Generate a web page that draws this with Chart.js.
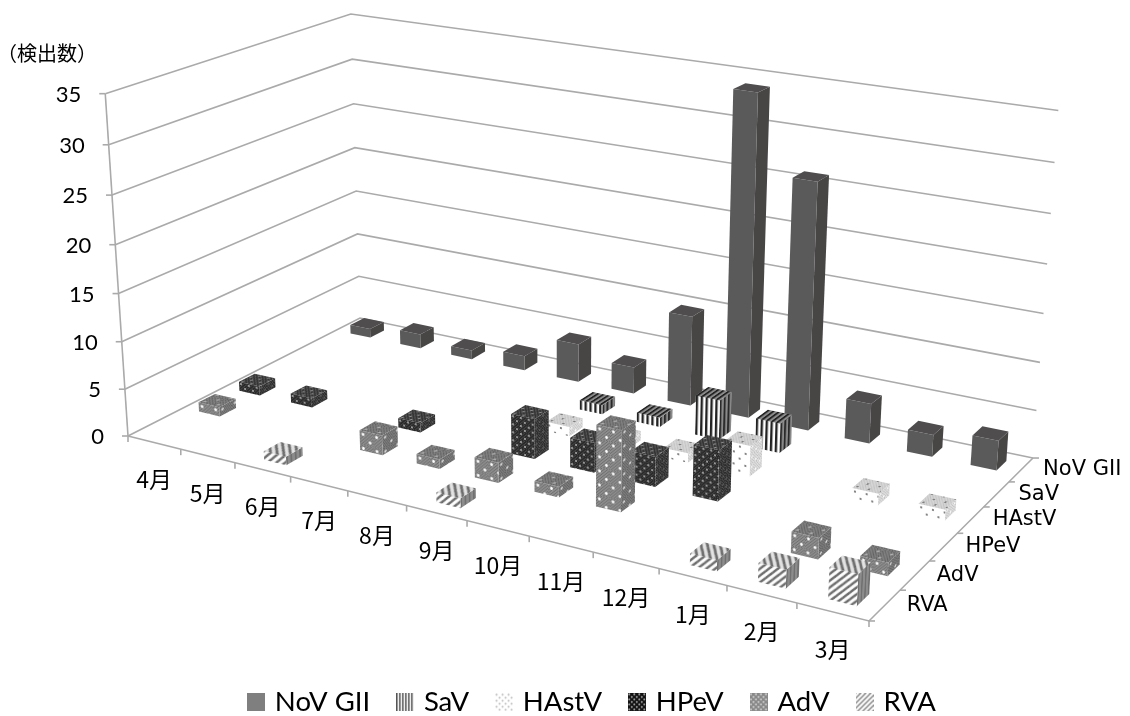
<!DOCTYPE html>
<html>
<head>
<meta charset="utf-8">
<style>
  html, body { margin: 0; padding: 0; background: #fff; }
  #wrap { width: 1130px; height: 716px; }
</style>
<script src="https://cdn.jsdelivr.net/npm/chart.js@4/dist/chart.umd.min.js"></script>
</head>
<body>
<div id="wrap"><canvas id="chart" width="1130" height="716"></canvas></div>
<script>
const months = ['4月', '5月', '6月', '7月', '8月', '9月', '10月', '11月', '12月', '1月', '2月', '3月'];
const seriesNames = ['NoV GII', 'SaV', 'HAstV', 'HPeV', 'AdV', 'RVA'];

const novGII = [1, 1.6, 1, 1.6, 4.2, 2.9, 9.7, 34, 26, 4.2, 2.3, 3.1];
const saV    = [null, null, null, null, null, 1, 1, 4.2, 3.1, null, null, null];
const hAstV  = [null, null, null, null, null, 1, 1, 1, 3.2, null, 1.2, 1.1];
const hPeV   = [1, 1, null, 1, null, 4.2, 3.1, 3.1, 5.2, null, null, null];
const adV    = [1, null, null, 2.1, 1, 2.1, 1.1, 8.2, null, null, 2.1, 1.3];
const rva    = [null, null, 0.9, null, null, 1, null, null, null, 1.1, 1.8, 3];
const allValues = [novGII, saV, hAstV, hPeV, adV, rva];

const MAX_Y = 35;
const DEPTH_BAR = 0.4;

// camera fitted to the corners of the box in the picture: (month, depth, height) -> screen
const CAM = [
  [605, 282.1, -28, 128],
  [87.8, -73.7, -347, 436],
  [-0.1565, 0.1392, -0.05, 1]
];
function project(u, v, t) {
  const w = CAM[2][0] * u + CAM[2][1] * v + CAM[2][2] * t + CAM[2][3];
  return {
    x: (CAM[0][0] * u + CAM[0][1] * v + CAM[0][2] * t + CAM[0][3]) / w,
    y: (CAM[1][0] * u + CAM[1][1] * v + CAM[1][2] * t + CAM[1][3]) / w
  };
}

// fill patterns
const probe = document.createElement('canvas').getContext('2d');
function tile(w, h, bg, draw) {
  const c = document.createElement('canvas');
  c.width = w; c.height = h;
  const g = c.getContext('2d');
  g.fillStyle = bg;
  g.fillRect(0, 0, w, h);
  draw(g);
  return probe.createPattern(c, 'repeat');
}
function stripes(bg, ink, size, bar) {
  return tile(size, size, bg, g => { g.fillStyle = ink; g.fillRect(0, 0, bar, size); });
}
function diagonal(bg, ink, size, lw) {
  return tile(size, size, bg, g => {
    g.strokeStyle = ink; g.lineWidth = lw;
    for (let k = -1; k <= 1; k++) {
      g.beginPath(); g.moveTo(k * size - 1, size + 1); g.lineTo(k * size + size + 1, -1); g.stroke();
    }
  });
}
function dots(bg, ink, size, r, hatch) {
  return tile(size, size, bg, g => {
    if (hatch) {
      g.strokeStyle = hatch; g.lineWidth = 1;
      for (let k = -size; k <= size; k += 3) {
        g.beginPath(); g.moveTo(k, size); g.lineTo(k + size, 0); g.stroke();
      }
    }
    g.fillStyle = ink;
    [[size / 4, size / 4], [size * 3 / 4, size * 3 / 4]].forEach(p => {
      g.beginPath(); g.arc(p[0], p[1], r, 0, Math.PI * 2); g.fill();
    });
  });
}

const faces = [
  { front: '#5a5a5a', side: '#484545', top: '#4f4d4d' },
  { front: stripes('#ffffff', '#222222', 5, 2.4), side: stripes('#8a8a8a', '#2a2a2a', 5, 2.4), top: stripes('#8c8c8c', '#222222', 5, 2.4) },
  { front: dots('#ffffff', '#666666', 12, 1.1), side: dots('#dedede', '#ffffff', 10, 1, '#c0c0c0'), top: dots('#d6d6d6', '#6e6e6e', 12, 1.1, '#c0c0c0') },
  { front: dots('#282828', '#b8b8b8', 8, 1, '#4a4a4a'), side: dots('#2c2c2c', '#666666', 8, 0.9, '#555555'), top: dots('#333333', '#999999', 9, 1.1, '#5c5c5c') },
  { front: dots('#8e8e8e', '#ffffff', 14, 1.4, '#6c6c6c'), side: dots('#7c7c7c', '#dddddd', 14, 1.3, '#5e5e5e'), top: dots('#808080', '#b4b4b4', 14, 1.3, '#606060') },
  { front: diagonal('#ffffff', '#6a6a6a', 7, 2.2), side: stripes('#8c8c8c', '#707070', 5, 2), top: diagonal('#e4e4e4', '#6a6a6a', 7, 2.2) }
];

// legend swatches, wider than the legend's box so the text sits close to them
const legendFills = [
  '#7f7f7f',
  stripes('#ffffff', '#555555', 3, 1.5),
  dots('#ffffff', '#bdbdbd', 6, 1),
  dots('#111111', '#aaaaaa', 5, 1),
  dots('#888888', '#dddddd', 5, 0.9),
  diagonal('#ffffff', '#888888', 5, 1.5)
];
const swatches = legendFills.map(fill => {
  const c = document.createElement('canvas');
  c.width = 18; c.height = 18;
  const g = c.getContext('2d');
  g.fillStyle = fill;
  g.fillRect(0, 0, 18, 18);
  return c;
});

function fillFace(ctx, pts, fill) {
  if (fill instanceof CanvasPattern) {
    const o = pts[0];
    const a = { x: pts[1].x - o.x, y: pts[1].y - o.y };
    const b = { x: pts[3].x - o.x, y: pts[3].y - o.y };
    const la = Math.hypot(a.x, a.y) || 1, lb = Math.hypot(b.x, b.y) || 1;
    fill.setTransform(new DOMMatrix([a.x / la, a.y / la, b.x / lb, b.y / lb, o.x, o.y]));
  }
  ctx.fillStyle = fill;
  ctx.beginPath();
  pts.forEach((p, i) => i ? ctx.lineTo(p.x, p.y) : ctx.moveTo(p.x, p.y));
  ctx.closePath();
  ctx.fill();
}

function line(ctx, pts) {
  ctx.beginPath();
  pts.forEach((p, i) => i ? ctx.lineTo(p.x, p.y) : ctx.moveTo(p.x, p.y));
  ctx.stroke();
}

const box3d = {
  id: 'box3d',
  beforeDatasetsDraw(chart) {
    const ctx = chart.ctx, area = chart.chartArea;
    const xs = chart.scales.x, ys = chart.scales.y;
    const y0 = ys.getPixelForValue(0), yTop = ys.getPixelForValue(MAX_Y);
    const toU = px => (px - area.left) / area.width;
    const toT = px => (y0 - px) / (y0 - yTop);

    ctx.save();
    // walls and floor
    ctx.strokeStyle = '#aaaaaa';
    ctx.lineWidth = 1.6;
    ys.ticks.forEach(tick => {
      const t = toT(ys.getPixelForValue(tick.value));
      line(ctx, [project(0, 0, t), project(0, 1, t), project(1, 1, t)]);
      const p = project(0, 0, t);
      line(ctx, [{ x: p.x - 6, y: p.y }, p]);
    });
    line(ctx, [project(0, 0, 0), project(0, 0, 1)]);
    line(ctx, [project(0, 0, 0), project(1, 0, 0), project(1, 1, 0)]);
    for (let i = 0; i <= months.length; i++) {
      const p = project(i / months.length, 0, 0);
      line(ctx, [p, { x: p.x, y: p.y + 6 }]);
    }
    for (let i = 0; i <= seriesNames.length; i++) {
      const p = project(1, i / seriesNames.length, 0);
      line(ctx, [p, { x: p.x + 6, y: p.y }]);
    }

    // bars, back row first and left to right
    for (let s = 0; s < seriesNames.length; s++) {
      const v = (seriesNames.length - 1 - s + 0.5) / seriesNames.length;
      const half = DEPTH_BAR / seriesNames.length / 2;
      chart.getDatasetMeta(s).data.forEach((el, i) => {
        if (allValues[s][i] === null) return;
        const u = toU(el.x), hw = el.width / area.width / 2, t = toT(el.y);
        const u0 = u - hw, u1 = u + hw, v0 = v - half, v1 = v + half;
        const f = faces[s];
        fillFace(ctx, [project(u1, v0, t), project(u1, v1, t), project(u1, v1, 0), project(u1, v0, 0)], f.side);
        fillFace(ctx, [project(u0, v0, t), project(u1, v0, t), project(u1, v0, 0), project(u0, v0, 0)], f.front);
        fillFace(ctx, [project(u0, v0, t), project(u1, v0, t), project(u1, v1, t), project(u0, v1, t)], f.top);
      });
    }

    // axis text
    ctx.fillStyle = '#000';
    ctx.textBaseline = 'middle';
    ctx.font = '22px Lato';
    ctx.textAlign = 'right';
    ys.ticks.forEach(tick => {
      const p = project(0, 0, toT(ys.getPixelForValue(tick.value)));
      ctx.fillText(String(tick.value), p.x - 24, p.y + 1);
    });
    ctx.font = '23px "Noto Sans CJK JP"';
    ctx.textAlign = 'center';
    months.forEach((m, i) => {
      const p = project(toU(xs.getPixelForValue(i)), 0, 0);
      ctx.fillText(m, p.x, p.y + 37);
    });
    ctx.font = '21px "DejaVu Sans"';
    ctx.textAlign = 'left';
    seriesNames.forEach((name, s) => {
      const p = project(1, (seriesNames.length - 1 - s + 0.5) / seriesNames.length, 0);
      ctx.fillText(name, p.x + 22, p.y);
    });
    ctx.font = '20px "Noto Sans CJK JP"';
    ctx.fillText('（検出数）', -3, 53);
    ctx.restore();
    return false; // the boxes above replace the flat bars
  }
};

new Chart(document.getElementById('chart'), {
  type: 'bar',
  data: {
    labels: months,
    datasets: seriesNames.map((name, s) => ({
      label: name,
      data: allValues[s],
      backgroundColor: legendFills[s],
      borderWidth: 0,
      grouped: false,
      barPercentage: 0.4,
      categoryPercentage: 1
    }))
  },
  options: {
    responsive: false,
    animation: false,
    events: [],
    layout: { padding: { left: 57, bottom: -10 } },
    scales: {
      x: { display: false },
      y: { display: false, min: 0, max: MAX_Y, ticks: { stepSize: 5 } }
    },
    plugins: {
      tooltip: { enabled: false },
      legend: {
        position: 'bottom',
        onClick: null,
        labels: {
          boxWidth: 10,
          boxHeight: 18,
          padding: 30,
          color: '#000',
          font: { family: 'Lato', size: 27.5 },
          usePointStyle: true,
          generateLabels: chart => seriesNames.map((name, s) => ({
            text: name,
            fillStyle: legendFills[s],
            strokeStyle: 'transparent',
            lineWidth: 0,
            pointStyle: swatches[s],
            datasetIndex: s
          }))
        }
      }
    }
  },
  plugins: [box3d]
});
</script>
</body>
</html>
